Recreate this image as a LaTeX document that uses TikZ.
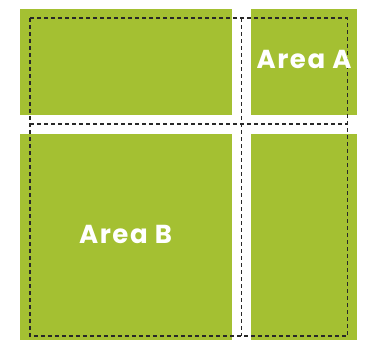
\documentclass[tikz,border=0pt]{standalone}
\usepackage{fontspec}
\newfontfamily\areafont{Poppins}[UprightFont=* Bold, LetterSpace=6]
\definecolor{leaf}{RGB}{164,192,50}
\definecolor{dashgray}{RGB}{40,40,40}
\begin{document}
\begin{tikzpicture}[
    x=1pt, y=-1pt,
    tile/.style={fill=leaf, draw=none},
    guide/.style={draw=dashgray, line width=1.1pt, dash pattern=on 4pt off 3pt},
    area/.style={text=white, font=\areafont\fontsize{26}{26}\selectfont, inner sep=0pt},
  ]
    \useasboundingbox (0,0) rectangle (365,340);
    % --- green tiles ---
    \fill[tile] (20,9) rectangle (232,115);
    \fill[tile] (251,9) rectangle (357,115);
    \fill[tile] (20,134) rectangle (232,340);
    \fill[tile] (251,134) rectangle (357,340);

    % --- dashed outlines ---
    \draw[guide] (30,18) rectangle (347.5,336);
    \draw[guide] (30,124) -- (347.5,124);
    \draw[guide] (241.5,18) -- (241.5,336);

    % --- labels ---
    \node[area] (areaA) at (304,59) {Area A};
    \node[area] (areaB) at (125.5,234) {Area B};
  \end{tikzpicture}
\end{document}
